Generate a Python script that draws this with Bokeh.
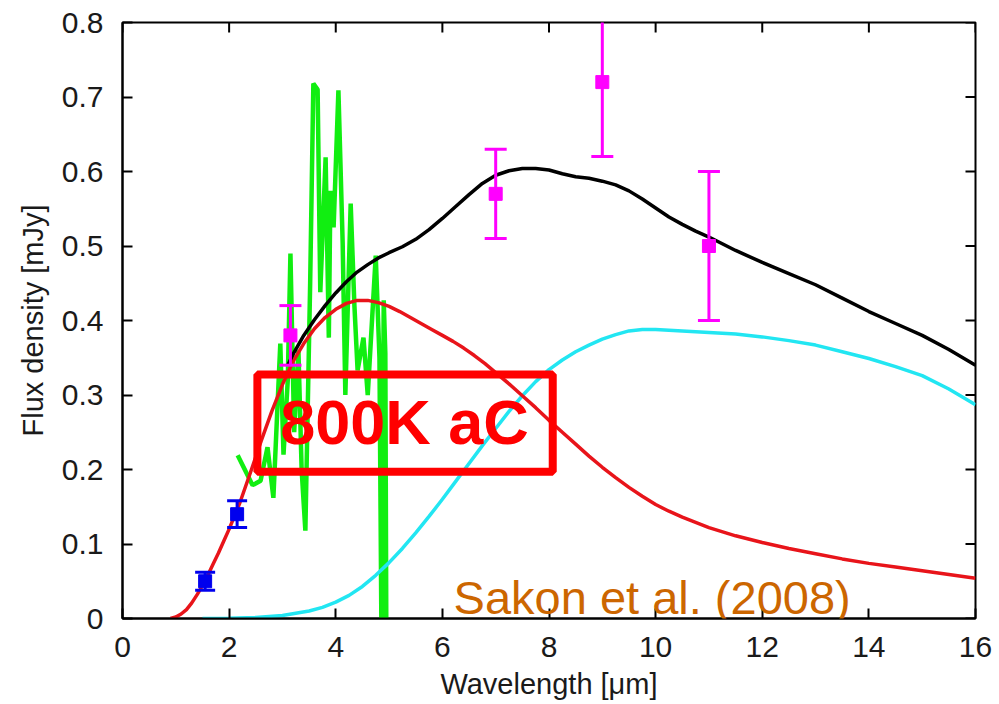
import math
from bokeh.plotting import figure
from bokeh.models import (FixedTicker, CustomJSTickFormatter, Range1d,
                          BoxAnnotation, Label, ColumnDataSource)
from bokeh.embed import file_html
from bokeh.resources import INLINE

# ---------------- data ----------------
red_x = [0.9, 1.0, 1.1, 1.2, 1.3, 1.4, 1.5, 1.6, 1.7, 1.8, 1.9, 2.0, 2.2, 2.4, 2.6, 2.8,
         3.0, 3.2, 3.4, 3.6, 3.8, 4.0, 4.2, 4.4, 4.6, 4.8, 5.0, 5.2, 5.4, 5.6, 5.8, 6.0,
         6.2, 6.4, 6.6, 6.8, 7.0, 7.25, 7.5, 7.75, 8.0, 8.25, 8.5, 8.75, 9.0, 9.25, 9.5,
         9.75, 10.0, 10.25, 10.5, 10.75, 11.0, 11.5, 12.0, 12.5, 13.0, 13.5, 14.0, 14.5,
         15.0, 15.5, 16.0]
red_y = [0.0, 0.002, 0.006, 0.012, 0.021, 0.032, 0.044, 0.058, 0.073, 0.088, 0.104, 0.12,
         0.155, 0.196, 0.238, 0.278, 0.314, 0.345, 0.369, 0.389, 0.404, 0.415, 0.423, 0.427,
         0.427, 0.424, 0.419, 0.412, 0.404, 0.396, 0.388, 0.38, 0.372, 0.363, 0.353, 0.342,
         0.33, 0.315, 0.299, 0.283, 0.266, 0.25, 0.234, 0.218, 0.203, 0.189, 0.176, 0.164,
         0.153, 0.144, 0.136, 0.129, 0.122, 0.111, 0.102, 0.094, 0.087, 0.08, 0.074, 0.069,
         0.064, 0.059, 0.054]

cyan_x = [1.5, 2.0, 2.5, 3.0, 3.5, 3.75, 4.0, 4.25, 4.5, 4.75, 5.0, 5.25, 5.5, 5.75, 6.0,
          6.25, 6.5, 6.75, 7.0, 7.25, 7.5, 7.75, 8.0, 8.25, 8.5, 8.75, 9.0, 9.25, 9.5, 9.75,
          10.0, 10.5, 11.0, 11.5, 12.0, 12.5, 13.0, 13.5, 14.0, 14.5, 15.0, 15.5, 16.0]
cyan_y = [0.0, 0.0005, 0.0015, 0.004, 0.01, 0.015, 0.022, 0.031, 0.043, 0.058, 0.075,
          0.094, 0.115, 0.137, 0.16, 0.184, 0.208, 0.232, 0.255, 0.278, 0.299, 0.318, 0.334,
          0.347, 0.358, 0.367, 0.375, 0.381, 0.386, 0.388, 0.388, 0.386, 0.384, 0.382, 0.378,
          0.373, 0.367, 0.358, 0.349, 0.338, 0.326, 0.308, 0.287]

black_x = [3.1, 3.2, 3.4, 3.6, 3.8, 4.0, 4.2, 4.4, 4.6, 4.8, 5.0, 5.25, 5.5, 5.75, 6.0,
           6.25, 6.5, 6.75, 7.0, 7.25, 7.5, 7.75, 8.0, 8.25, 8.5, 8.75, 9.0, 9.25, 9.5,
           9.75, 10.0, 10.25, 10.5, 10.75, 11.0, 11.25, 11.5, 12.0, 12.5, 13.0, 13.5, 14.0,
           14.5, 15.0, 15.5, 16.0]
black_y = [0.34, 0.355, 0.38, 0.401, 0.42, 0.437, 0.452, 0.465, 0.475, 0.484, 0.491, 0.499,
           0.509, 0.522, 0.537, 0.553, 0.569, 0.584, 0.595, 0.601, 0.604, 0.604, 0.602, 0.597,
           0.593, 0.591, 0.587, 0.582, 0.574, 0.563, 0.551, 0.539, 0.529, 0.52, 0.512, 0.503,
           0.494, 0.478, 0.463, 0.448, 0.43, 0.412, 0.396, 0.38, 0.361, 0.34]

green_x = [2.16, 2.44, 2.59, 2.72, 2.83, 2.96, 3.02, 3.1, 3.15, 3.22, 3.3, 3.36, 3.43, 3.52,
           3.58, 3.66, 3.71, 3.81, 3.87, 3.9, 3.96, 4.05, 4.13, 4.18, 4.28, 4.35, 4.41, 4.52,
           4.6, 4.75, 4.82, 4.86, 4.9, 4.93, 4.95]
green_y = [0.219, 0.179, 0.185, 0.23, 0.162, 0.369, 0.22, 0.32, 0.49, 0.25, 0.36, 0.2,
           0.118, 0.45, 0.718, 0.71, 0.438, 0.619, 0.377, 0.574, 0.525, 0.709, 0.503, 0.3,
           0.557, 0.42, 0.333, 0.377, 0.3, 0.487, 0.35, -0.05, 0.427, 0.356, -0.05]

blue_x = [1.55, 2.15]
blue_y = [0.05, 0.14]
blue_err = [0.012, 0.018]

mag_x = [3.15, 7.0, 9.0, 11.0]
mag_y = [0.38, 0.57, 0.72, 0.50]
mag_err = [0.04, 0.06, 0.10, 0.10]

x_ticks = [0, 2, 4, 6, 8, 10, 12, 14, 16]
y_ticks = [0.0, 0.1, 0.2, 0.3, 0.4, 0.5, 0.6, 0.7, 0.8]
X_MIN, X_MAX = 0, 16
Y_MIN, Y_MAX = 0.0, 0.8

FONT = "Liberation Sans"

p = figure(width=999, height=704, output_backend="svg", toolbar_location=None,
           x_range=Range1d(X_MIN, X_MAX), y_range=Range1d(Y_MIN, Y_MAX),
           min_border_left=122, min_border_right=24, min_border_top=22,
           min_border_bottom=86, background_fill_color="white",
           border_fill_color="white")
p.grid.visible = False
p.outline_line_color = "black"
p.outline_line_width = 2

xa = p.xaxis[0]
ya = p.yaxis[0]
xa.ticker = FixedTicker(ticks=x_ticks)
ya.ticker = FixedTicker(ticks=y_ticks)
ya.formatter = CustomJSTickFormatter(code="return tick == 0 ? '0' : tick.toFixed(1);")
for ax in (xa, ya):
    ax.major_tick_in = 10
    ax.major_tick_out = 0
    ax.minor_tick_line_color = None
    ax.major_tick_line_width = 2
    ax.axis_line_width = 2
    ax.major_label_text_font = FONT
    ax.major_label_text_font_size = "30px"
    ax.major_label_text_color = "#1a1a1a"
    ax.axis_label_text_font = FONT
    ax.axis_label_text_font_style = "normal"
    ax.axis_label_text_color = "#1a1a1a"
    ax.axis_label_text_font_size = "29px"
xa.axis_label = "Wavelength [μm]"
ya.axis_label = "Flux density [mJy]"
xa.major_label_standoff = 18
ya.major_label_standoff = 19
xa.axis_label_standoff = 8
ya.axis_label_standoff = 10

# mirrored inward ticks on top and right (half of each dash is clipped by the frame)
p.scatter(x=x_ticks, y=[Y_MAX] * len(x_ticks), marker="dash", size=20,
          angle=math.pi / 2, line_color="black", line_width=2)
p.scatter(x=[X_MAX] * len(y_ticks), y=y_ticks, marker="dash", size=20,
          line_color="black", line_width=2)

# curves
p.line(green_x, green_y, line_color="#11ee11", line_width=4.5)
p.line(cyan_x, cyan_y, line_color="#22e6f2", line_width=3.5)
p.line(red_x, red_y, line_color="#e8141a", line_width=3.5)
p.line(black_x, black_y, line_color="black", line_width=3.5)

# error bars
def errorbars(xs, ys, errs, color, cap):
    lo = [y - e for y, e in zip(ys, errs)]
    hi = [y + e for y, e in zip(ys, errs)]
    src = ColumnDataSource(dict(x=xs, y=ys, lo=lo, hi=hi))
    p.segment(x0="x", y0="lo", x1="x", y1="hi", source=src, line_color=color, line_width=3)
    p.scatter(x="x", y="lo", source=src, marker="dash", size=cap, line_color=color,
              line_width=3)
    p.scatter(x="x", y="hi", source=src, marker="dash", size=cap, line_color=color,
              line_width=3)
    p.scatter(x="x", y="y", source=src, marker="square", size=13, fill_color=color,
              line_color=color)

errorbars(mag_x, mag_y, mag_err, "#ff00ff", 22)
errorbars(blue_x, blue_y, blue_err, "#0000ee", 20)

# annotations
box = BoxAnnotation(left=2.53, right=8.07, bottom=0.197, top=0.3275,
                    fill_alpha=0, line_color="#ff0000", line_alpha=1.0, line_width=8)
p.add_layout(box)
p.add_layout(Label(x=5.29, y=0.2637, text="800K aC", text_font=FONT,
                   text_font_size="63px", text_font_style="bold", text_color="#ff0000",
                   text_align="center", text_baseline="middle"))
p.add_layout(Label(x=6.21, y=0.028, text="Sakon et al. (2008)", text_font=FONT,
                   text_font_size="47px", text_color="#cc6600",
                   text_align="left", text_baseline="alphabetic"))

open("out.html", "w").write(file_html(p, INLINE))
